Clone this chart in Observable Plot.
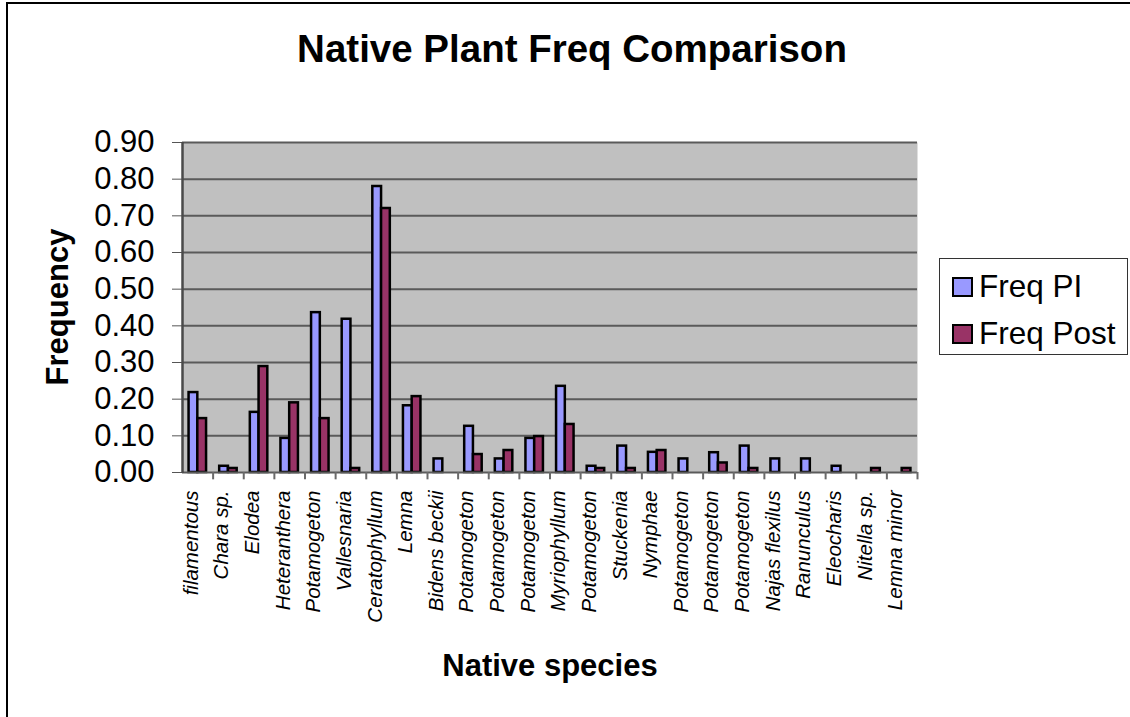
<!DOCTYPE html>
<html>
<head>
<meta charset="utf-8">
<script src="https://cdn.jsdelivr.net/npm/d3@7"></script>
<script src="https://cdn.jsdelivr.net/npm/@observablehq/plot@0.6"></script>
<style>
  html, body { margin: 0; padding: 0; background: #fff; }
  #wrap { position: relative; width: 1130px; height: 717px; overflow: hidden; font-family: "Liberation Sans", Arial, sans-serif; }
  #outer { position: absolute; left: 6px; top: 2px; width: 2000px; height: 2000px; border-left: 2px solid #000; border-top: 2px solid #000; }
  #title { position: absolute; left: 572px; top: 49px; transform: translate(-50%, -50%); font-size: 38.5px; font-weight: bold; white-space: nowrap; color: #000; }
  #ylab { position: absolute; left: 58px; top: 307px; transform: translate(-50%, -50%) rotate(-90deg); font-size: 31px; font-weight: bold; white-space: nowrap; }
  #xlab { position: absolute; left: 550px; top: 666px; transform: translate(-50%, -50%); font-size: 31px; font-weight: bold; white-space: nowrap; }
  #legend { position: absolute; left: 939px; top: 258px; width: 189px; height: 97px; border: 1px solid #333; box-sizing: border-box; background: #fff; }
  .item { position: absolute; left: 12px; display: flex; align-items: center; font-size: 31.5px; white-space: nowrap; }
  .sw { width: 17px; height: 16px; border: 2px solid #000; margin-right: 6px; }
  #chart { position: absolute; left: 0; top: 0; width: 1130px; }
  [aria-label="y-axis"] .tick line { stroke: #555; }
  [aria-label="y-axis tick"] { color: #555; }
</style>
</head>
<body>
<div id="wrap">
  <div id="outer"></div>
  <div id="chart"></div>
  <div id="title">Native Plant Freq Comparison</div>
  <div id="ylab">Frequency</div>
  <div id="xlab">Native species</div>
  <div id="legend"></div>
</div>
<script>
const species = ["filamentous", "Chara sp.", "Elodea", "Heteranthera", "Potamogeton", "Vallesnaria",
  "Ceratophyllum", "Lemna", "Bidens beckii", "Potamogeton", "Potamogeton", "Potamogeton",
  "Myriophyllum", "Potamogeton", "Stuckenia", "Nymphae", "Potamogeton", "Potamogeton",
  "Potamogeton", "Najas flexilus", "Ranunculus", "Eleocharis", "Nitella sp.", "Lemna minor"];
const freqPI = [0.218, 0.017, 0.164, 0.093, 0.436, 0.418, 0.780, 0.182, 0.037, 0.126, 0.037, 0.093,
  0.235, 0.017, 0.072, 0.055, 0.037, 0.054, 0.072, 0.037, 0.037, 0.017, 0, 0];
const freqPost = [0.147, 0.011, 0.289, 0.190, 0.147, 0.011, 0.720, 0.207, 0, 0.049, 0.060, 0.098,
  0.131, 0.011, 0.011, 0.060, 0, 0.026, 0.011, 0, 0, 0, 0.011, 0.011];
const yTicks = [0, 0.1, 0.2, 0.3, 0.4, 0.5, 0.6, 0.7, 0.8, 0.9];
const seriesNames = ["Freq PI", "Freq Post"];
const seriesColors = ["#9999FF", "#993366"];

const W = 1130, H = 717, mL = 182, mR = 213, mT = 142, mB = 245;
const idx = species.map((_, i) => i);
const step = (W - mL - mR) / species.length;
const bw = step / 3.5;          // Excel gap width 150%
const half = step / 2;

const rowsPI = idx.filter(i => freqPI[i] > 0).map(i => ({i, v: freqPI[i]}));
const rowsPost = idx.filter(i => freqPost[i] > 0).map(i => ({i, v: freqPost[i]}));

const chart = Plot.plot({
  width: W, height: H,
  marginLeft: mL, marginRight: mR, marginTop: mT, marginBottom: mB,
  style: {fontFamily: '"Liberation Sans", Arial, sans-serif', fontSize: "31px", color: "#000", background: "transparent", overflow: "visible"},
  x: {type: "band", domain: idx, padding: 0, round: false, axis: null},
  y: {domain: [0, 0.9], ticks: yTicks, tickFormat: d3.format(".2f"), tickSize: 10, tickPadding: 18, label: null},
  marks: [
    Plot.frame({fill: "#C0C0C0", stroke: null}),
    Plot.ruleY(yTicks.filter(v => v > 0), {stroke: "#5a5a5a", strokeWidth: 2}),
    Plot.barY(rowsPI, {x: "i", y: "v", insetLeft: half - bw, insetRight: half, fill: seriesColors[0], stroke: "#000", strokeWidth: 2.5}),
    Plot.barY(rowsPost, {x: "i", y: "v", insetLeft: half, insetRight: half - bw, fill: seriesColors[1], stroke: "#000", strokeWidth: 2.5}),
    Plot.ruleY([0], {stroke: "#5a5a5a", strokeWidth: 2}),
    Plot.ruleX(idx, {x: d => d, dx: half, y1: 0, y2: -0.02, stroke: "#6a6a6a", strokeWidth: 2}),
    Plot.ruleX([0], {x: d => d, dx: -half, y1: -0.003, y2: 0.9, stroke: "#4a4a4a", strokeWidth: 2.5}),
    Plot.text(idx, {x: d => d, frameAnchor: "bottom", text: d => species[d], rotate: -90, textAnchor: "end",
      dy: 18, fontStyle: "italic", fontSize: 20.5, fill: "#000"})
  ]
});
document.getElementById("chart").appendChild(chart);

const leg = document.getElementById("legend");
seriesNames.forEach((name, k) => {
  const it = document.createElement("div");
  it.className = "item";
  it.style.top = (k === 0 ? 9 : 56) + "px";
  const sw = document.createElement("div");
  sw.className = "sw";
  sw.style.background = seriesColors[k];
  const t = document.createElement("span");
  t.textContent = name;
  it.appendChild(sw); it.appendChild(t);
  leg.appendChild(it);
});
</script>
</body>
</html>
